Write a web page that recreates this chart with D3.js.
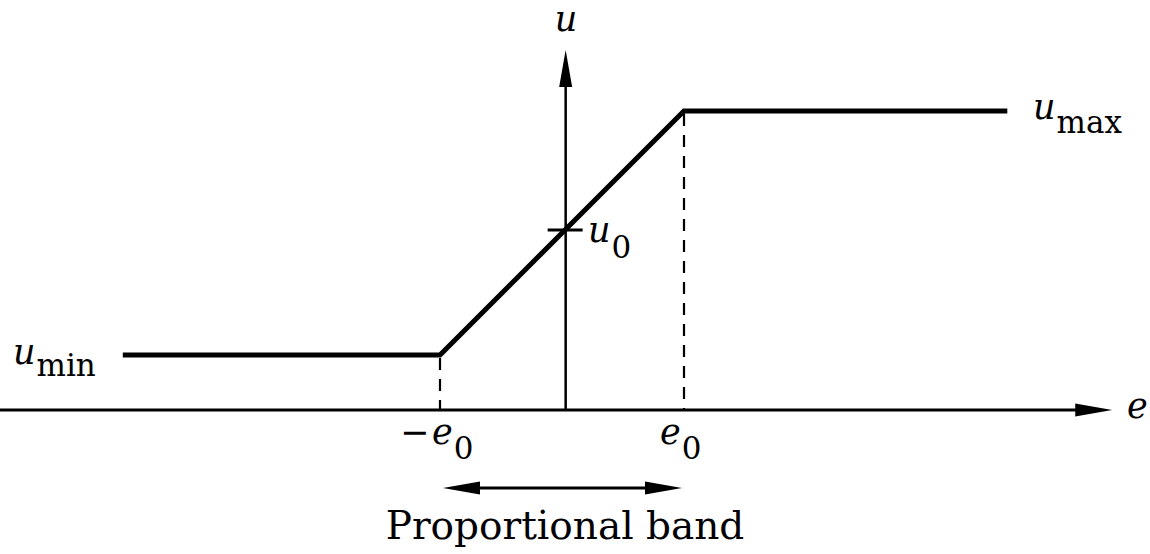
<!DOCTYPE html>
<html>

<head>
    <meta charset="utf-8">
    <style>
        body {
            margin: 0;
            background: #fff;
        }

        svg {
            display: block;
        }

        .lbl {
            font-family: "DejaVu Serif", serif;
            font-size: 35px;
            fill: #000;
        }

        .lbl .var {
            font-style: italic;
        }

        .lbl .sub {
            font-size: 31px;
            font-style: normal;
        }

        .caption {
            font-family: "DejaVu Serif", serif;
            font-size: 39px;
            fill: #000;
        }
    </style>
</head>

<body>
    <svg width="1150" height="554"></svg>
</body>

<script src="https://d3js.org/d3.v7.min.js"></script>

<script>
    // controller curve, in units of e0 (x) and of 1/100 of the plot height (y)
    let curveE = [-3.63, -1.03, 0.97, 3.62]
    let curveU = [0.55, 0.55, 2.99, 2.99]

    let bandEdges = [-1.03, 0.97]   // -e0 and e0
    let u0Value = 1.8
    let eAxisRange = [-4.64, 4.48]
    let uAxisRange = [0, 3.6]

    let svg = d3.select("svg")

    let x = d3.scaleLinear()
        .domain([-1.03, 0.97])
        .range([440, 684])

    let y = d3.scaleLinear()
        .domain([0, 2.99])
        .range([410, 111])

    let curve = curveE.map(function (e, i) { return { e: e, u: curveU[i] } })

    // arrowhead as a filled triangle, tip at (tx,ty), pointing along (dx,dy)
    function arrowHead(tx, ty, dx, dy) {
        let len = 37, half = 6.5
        let bx = tx - dx * len, by = ty - dy * len
        let px = -dy * half, py = dx * half
        svg.append("path")
            .attr("d", `M${tx},${ty}L${bx + px},${by + py}L${bx - px},${by - py}Z`)
            .style("fill", "#000")
    }

    // e axis
    svg.append("line")
        .attr("x1", x(eAxisRange[0]))
        .attr("x2", x(eAxisRange[1]) - 20)
        .attr("y1", y(0))
        .attr("y2", y(0))
        .style("stroke", "#000")
        .style("stroke-width", 3)
    arrowHead(x(eAxisRange[1]), y(0), 1, 0)

    // u axis
    svg.append("line")
        .attr("x1", x(0))
        .attr("x2", x(0))
        .attr("y1", y(0))
        .attr("y2", y(uAxisRange[1]) + 20)
        .style("stroke", "#000")
        .style("stroke-width", 2.5)
    arrowHead(x(0), y(uAxisRange[1]), 0, -1)

    // dashed drop lines at the band edges
    svg.append("g")
        .selectAll("line")
        .data(bandEdges)
        .join("line")
        .attr("x1", d => x(d))
        .attr("x2", d => x(d))
        .attr("y1", (d, i) => y(i == 0 ? curveU[1] : curveU[2]) + 3)
        .attr("y2", y(0))
        .style("stroke", "#000")
        .style("stroke-width", 2.2)
        .style("stroke-dasharray", "12,9")

    // u0 tick
    svg.append("line")
        .attr("x1", x(0) - 18)
        .attr("x2", x(0) + 17)
        .attr("y1", y(u0Value))
        .attr("y2", y(u0Value))
        .style("stroke", "#000")
        .style("stroke-width", 3)

    let line = d3.line()
        .x(d => x(d.e))
        .y(d => y(d.u))

    svg.append("path")
        .attr("d", line(curve))
        .style("fill", "none")
        .style("stroke", "#000")
        .style("stroke-width", 5)
        .style("stroke-linejoin", "miter")

    // proportional band arrow
    let bandY = 488
    svg.append("line")
        .attr("x1", x(bandEdges[0]) + 20)
        .attr("x2", x(bandEdges[1]) - 20)
        .attr("y1", bandY)
        .attr("y2", bandY)
        .style("stroke", "#000")
        .style("stroke-width", 3)
    arrowHead(x(bandEdges[0]) + 3, bandY, -1, 0)
    arrowHead(x(bandEdges[1]) - 2, bandY, 1, 0)

    // labels
    function label(px, py, name, sub, subDy) {
        let t = svg.append("text")
            .attr("class", "lbl")
            .attr("x", px)
            .attr("y", py)
        t.append("tspan").attr("class", "var").text(name)
        if (sub) t.append("tspan").attr("class", "sub").attr("dx", 1).attr("dy", subDy).text(sub)
    }

    label(x(0) - 11, 31, "u")
    label(1127, 418, "e")
    label(1033, 119, "u", "max", 14)
    label(13, 364, "u", "min", 12)
    label(588, 242, "u", "0", 16)
    label(432, 444, "e", "0", 15)
    label(660, 444, "e", "0", 15)

    svg.append("text")
        .attr("class", "lbl")
        .attr("x", 400)
        .attr("y", 444)
        .text("−")

    svg.append("text")
        .attr("class", "caption")
        .attr("x", (x(bandEdges[0]) + x(bandEdges[1])) / 2 + 3)
        .attr("y", 539)
        .attr("text-anchor", "middle")
        .text("Proportional band")
</script>

</html>
